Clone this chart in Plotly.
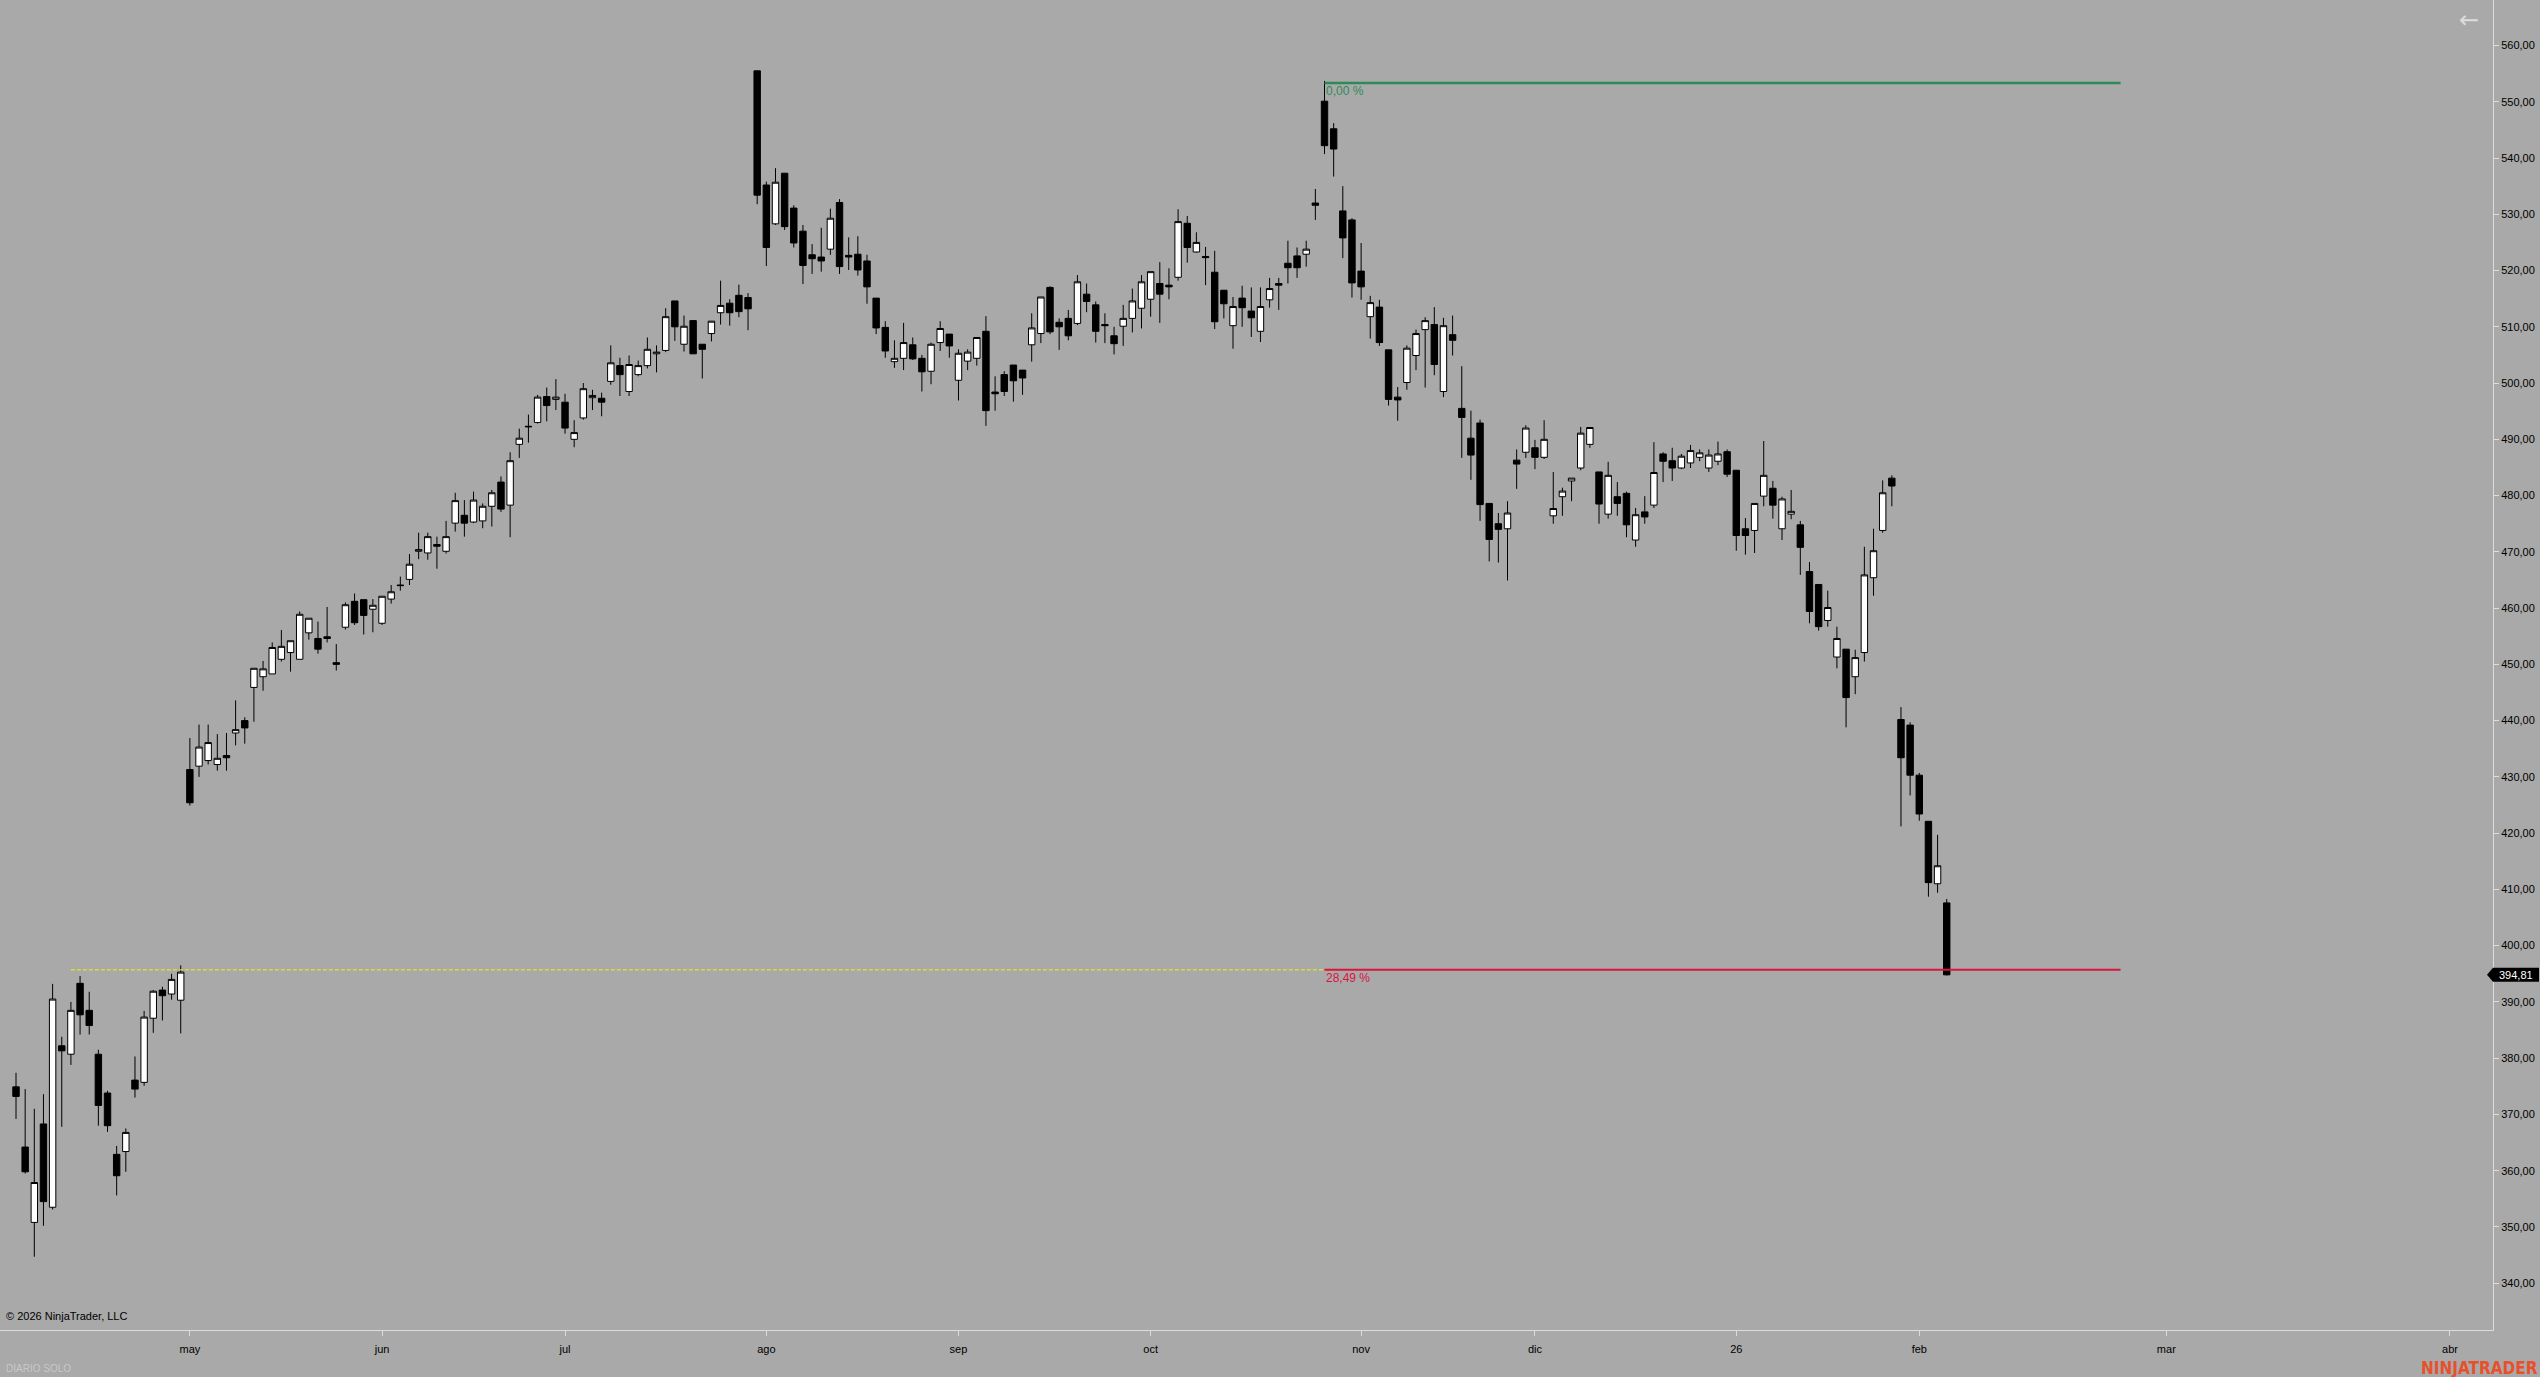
import pandas as pd
import plotly.graph_objects as go

# ---------------- data ----------------
opens = [374.9, 364.2, 350.8, 368.3, 353.5, 382.2, 380.7, 393.3, 388.5, 380.7,
         373.8, 362.9, 363.4, 376.1, 375.7, 387.1, 392.1, 391.4, 390.3, 431.3,
         431.9, 432.9, 432.2, 433.8, 437.8, 440.0, 445.9, 447.8, 448.3, 450.9,
         452.1, 450.9, 455.6, 454.6, 454.9, 450.3, 456.6, 461.2, 461.5, 459.8,
         457.3, 461.6, 464.1, 465.1, 470.1, 469.8, 471.3, 470.1, 475.1, 476.5,
         475.3, 475.5, 478.1, 482.4, 478.3, 489.1, 492.2, 493.0, 497.6, 497.1,
         496.6, 490.0, 493.8, 497.4, 497.3, 500.3, 503.1, 498.5, 501.5, 503.1,
         505.2, 505.8, 514.6, 506.9, 511.1, 506.9, 508.8, 512.5, 514.2, 515.6,
         515.2, 555.5, 535.2, 528.3, 537.3, 531.1, 527.0, 522.8, 522.4, 523.8,
         532.1, 522.7, 522.9, 521.7, 515.1, 509.9, 503.8, 504.4, 506.8, 504.4,
         502.1, 507.2, 508.7, 500.5, 503.9, 504.4, 509.2, 498.4, 501.5, 503.2,
         502.3, 506.8, 508.8, 517.0, 510.8, 511.5, 510.6, 515.8, 513.9, 510.4,
         508.4, 510.1, 511.5, 513.3, 514.9, 517.7, 517.4, 518.8, 528.4, 523.3,
         522.5, 519.7, 516.5, 510.2, 515.1, 512.8, 509.2, 514.8, 517.7, 521.3,
         522.6, 522.9, 532.0, 550.1, 545.2, 530.6, 529.0, 519.9, 511.8, 513.5,
         505.9, 497.5, 500.1, 504.9, 509.5, 510.4, 498.5, 508.6, 495.5, 490.2,
         492.9, 478.6, 475.0, 474.1, 486.3, 487.7, 488.5, 486.8, 476.4, 479.8,
         482.6, 484.9, 489.1, 484.2, 476.7, 479.8, 480.4, 472.1, 477.1, 478.3,
         487.4, 486.2, 484.9, 485.8, 486.8, 484.9, 486.1, 487.8, 484.5, 474.1,
         473.8, 479.9, 481.3, 474.1, 476.7, 474.8, 466.5, 464.2, 457.8, 451.3,
         452.7, 447.8, 452.1, 465.4, 473.8, 483.1, 440.2, 439.2, 430.3, 422.1,
         411.0, 407.6]
highs = [377.4, 374.5, 371.0, 373.6, 393.2, 383.8, 390.0, 394.6, 391.8, 381.5,
         374.2, 364.4, 367.5, 380.3, 388.4, 392.1, 392.7, 395.0, 396.5, 436.9,
         439.3, 439.3, 437.6, 437.8, 443.6, 440.6, 449.3, 450.6, 453.9, 456.1,
         454.2, 459.4, 458.2, 457.6, 460.2, 453.6, 461.0, 462.6, 461.5, 461.6,
         462.1, 464.1, 465.6, 469.6, 473.4, 473.4, 472.7, 475.5, 480.5, 479.2,
         480.7, 478.6, 481.0, 483.4, 487.7, 491.9, 494.4, 497.9, 499.2, 500.7,
         498.1, 493.4, 500.0, 498.8, 498.3, 506.7, 504.5, 504.9, 504.0, 508.1,
         506.7, 513.3, 514.6, 512.0, 511.2, 506.9, 511.0, 518.2, 514.9, 517.5,
         516.0, 555.5, 535.8, 538.2, 537.3, 531.6, 528.1, 524.7, 527.6, 531.0,
         532.7, 525.9, 526.1, 522.8, 515.1, 511.0, 507.6, 510.7, 508.1, 505.0,
         507.2, 511.0, 508.7, 506.0, 506.0, 508.1, 511.9, 501.2, 502.1, 503.2,
         502.3, 512.4, 515.3, 517.2, 511.5, 513.0, 519.2, 517.7, 514.5, 512.4,
         510.0, 513.9, 516.8, 519.2, 519.8, 521.5, 520.4, 530.9, 529.7, 526.8,
         524.2, 523.5, 516.5, 515.3, 517.3, 517.0, 517.0, 518.7, 518.7, 525.3,
         524.1, 525.3, 534.5, 553.7, 546.2, 535.0, 529.3, 524.9, 515.5, 514.8,
         505.9, 499.3, 506.7, 509.5, 511.7, 513.5, 511.6, 512.0, 503.0, 495.1,
         493.5, 478.6, 476.9, 479.0, 488.2, 492.5, 489.9, 493.4, 484.2, 481.4,
         483.1, 492.2, 492.1, 484.2, 486.0, 482.4, 480.7, 477.8, 479.9, 489.5,
         487.7, 488.5, 487.4, 489.0, 488.2, 488.2, 489.6, 488.2, 484.5, 476.0,
         478.6, 489.7, 482.6, 479.8, 481.0, 475.5, 468.2, 464.2, 463.1, 456.7,
         452.7, 452.6, 470.9, 474.1, 482.7, 483.6, 442.4, 439.7, 430.7, 422.1,
         419.7, 408.3]
lows = [369.2, 359.5, 344.7, 350.2, 353.1, 367.8, 378.8, 384.2, 384.2, 368.0,
        366.9, 355.6, 359.8, 373.0, 375.1, 384.5, 386.7, 390.4, 384.4, 424.9,
        430.0, 432.2, 431.1, 431.1, 435.6, 435.9, 439.8, 445.3, 448.3, 450.5,
        448.7, 450.9, 454.4, 451.9, 453.9, 448.9, 456.2, 457.0, 455.3, 455.7,
        457.0, 460.8, 463.1, 464.1, 468.7, 468.6, 467.0, 469.7, 473.6, 472.7,
        475.1, 474.2, 474.5, 477.1, 472.6, 486.7, 489.4, 492.8, 493.2, 495.2,
        491.0, 488.6, 493.5, 495.2, 494.1, 499.7, 497.7, 497.7, 501.2, 502.6,
        501.9, 505.5, 507.5, 505.6, 505.2, 500.8, 507.4, 510.4, 510.2, 511.7,
        509.4, 531.8, 520.8, 528.1, 527.2, 524.1, 517.6, 519.4, 519.8, 522.8,
        519.4, 520.1, 519.1, 514.1, 508.7, 504.5, 502.7, 502.3, 504.1, 498.5,
        499.8, 505.7, 504.5, 496.9, 502.3, 503.1, 492.4, 495.1, 497.7, 496.7,
        497.9, 503.8, 507.1, 508.7, 505.9, 507.6, 510.3, 512.6, 507.2, 507.1,
        505.1, 506.6, 509.0, 509.7, 511.8, 510.7, 514.9, 518.2, 521.4, 523.2,
        517.4, 509.6, 511.5, 506.1, 510.0, 508.2, 507.3, 513.4, 513.0, 517.7,
        518.7, 520.7, 529.0, 540.7, 536.7, 522.2, 515.2, 514.8, 507.9, 506.6,
        496.0, 493.3, 498.8, 502.3, 499.2, 501.4, 497.5, 504.9, 486.7, 482.8,
        475.5, 468.3, 468.1, 464.9, 481.2, 486.7, 484.7, 486.5, 475.0, 476.4,
        479.0, 484.5, 488.5, 475.0, 475.9, 476.4, 472.6, 470.9, 475.0, 477.8,
        482.4, 482.6, 484.7, 484.9, 486.1, 484.2, 485.4, 483.3, 470.2, 469.5,
        469.8, 478.1, 475.9, 472.1, 475.8, 465.9, 457.3, 456.0, 456.7, 449.3,
        438.8, 444.7, 450.5, 462.2, 473.4, 478.1, 421.2, 426.7, 422.2, 408.7,
        409.4, 394.7]
closes = [373.2, 359.8, 357.9, 354.5, 390.5, 381.3, 388.5, 387.7, 385.8, 371.6,
          368.0, 359.1, 366.8, 374.5, 387.3, 391.9, 391.1, 394.0, 395.3, 425.4,
          435.3, 436.1, 433.3, 433.4, 438.4, 438.7, 449.3, 449.2, 453.0, 453.2,
          454.2, 458.9, 458.2, 452.7, 454.6, 450.0, 460.6, 457.4, 458.7, 460.5,
          462.1, 462.9, 464.0, 467.8, 470.4, 472.7, 471.0, 472.7, 479.1, 475.1,
          479.2, 478.1, 480.5, 477.6, 486.2, 490.2, 492.3, 497.5, 496.0, 497.5,
          492.0, 491.2, 499.0, 497.8, 496.6, 503.6, 501.5, 503.3, 503.1, 506.0,
          505.5, 511.8, 510.0, 510.1, 505.2, 506.0, 511.0, 513.8, 512.5, 512.7,
          513.2, 533.4, 524.1, 535.7, 527.8, 524.9, 520.9, 522.1, 521.7, 529.3,
          520.7, 522.4, 520.1, 517.1, 509.8, 505.7, 504.4, 507.2, 504.3, 502.0,
          506.9, 509.7, 506.6, 505.3, 505.5, 508.1, 495.1, 498.1, 498.5, 500.4,
          500.9, 509.8, 515.3, 509.1, 510.0, 508.4, 518.0, 514.5, 509.2, 510.2,
          507.0, 511.5, 514.6, 518.0, 519.8, 515.8, 517.1, 528.7, 524.1, 525.0,
          522.3, 510.9, 514.1, 513.6, 513.4, 511.6, 513.6, 516.8, 517.4, 520.5,
          520.5, 523.8, 531.6, 542.2, 541.6, 525.8, 517.8, 517.1, 514.3, 507.2,
          497.1, 497.0, 506.2, 508.8, 511.1, 503.3, 510.2, 507.6, 493.9, 487.2,
          478.4, 472.2, 474.0, 476.9, 485.6, 492.0, 486.8, 490.0, 477.7, 480.8,
          483.1, 491.1, 492.1, 478.5, 483.6, 478.6, 474.8, 476.6, 476.2, 484.1,
          486.1, 484.9, 487.0, 488.0, 487.6, 487.2, 487.4, 483.8, 472.9, 472.9,
          478.6, 483.6, 478.3, 479.4, 477.2, 470.8, 459.4, 456.7, 460.1, 454.6,
          444.1, 451.2, 465.9, 470.2, 480.5, 481.7, 433.4, 430.3, 423.4, 411.2,
          414.2, 394.81]

# trading calendar (US market holidays in the window)
first_day = "2025-04-03"
last_day = "2026-02-05"
market_holidays = ["2025-04-18", "2025-05-26", "2025-06-19", "2025-07-04",
                   "2025-09-01", "2025-11-27", "2025-12-25", "2026-01-01",
                   "2026-01-19"]
future_until = "2026-04-20"

# month tick labels (Spanish, year shown for January)
tick_months = ["2025-05", "2025-06", "2025-07", "2025-08", "2025-09", "2025-10",
               "2025-11", "2025-12", "2026-01", "2026-02", "2026-03", "2026-04"]
tick_labels = ["may", "jun", "jul", "ago", "sep", "oct", "nov", "dic", "26",
               "feb", "mar", "abr"]

# percentage drawing tool
fib_anchor_date = "2025-10-28"
fib_left_date = "2025-04-11"
fib_right_date = "2026-02-24"
fib_top = 553.35
fib_bottom = 395.7
fib_top_label = "0,00 %"
fib_bottom_label = "28,49 %"

# ---------------- build ----------------
tdays = pd.bdate_range(first_day, last_day, freq="C", holidays=market_holidays)
fdays = pd.date_range(tdays[-1] + pd.Timedelta(days=1), future_until, freq="D")
all_days = list(tdays) + list(fdays)
pos = {d.strftime("%Y-%m-%d"): i for i, d in enumerate(all_days)}
idx = list(range(len(tdays)))

tickvals = []
for m in tick_months:
    start = pd.Timestamp(m + "-01")
    tickvals.append(next(i for i, d in enumerate(all_days) if d >= start))

x_anchor = pos[fib_anchor_date]
x_left = pos[fib_left_date]
x_right = pos[fib_right_date]

BG = "#a9a9a9"
AX = "#dcdcdc"
FONT = "Liberation Sans, Arial, sans-serif"

fig = go.Figure()
fig.add_trace(go.Candlestick(
    x=idx, open=opens, high=highs, low=lows, close=closes,
    increasing=dict(line=dict(color="black", width=1), fillcolor="white"),
    decreasing=dict(line=dict(color="black", width=1), fillcolor="black"),
    whiskerwidth=0, hoverinfo="skip", showlegend=False,
))

shapes = [
    dict(type="line", xref="x", yref="y", x0=x_left, x1=x_anchor, y0=fib_bottom, y1=fib_bottom,
         line=dict(color="#f2f200", width=1, dash="4px,2px"), layer="above"),
    dict(type="line", xref="x", yref="y", x0=x_anchor, x1=x_right, y0=fib_bottom, y1=fib_bottom,
         line=dict(color="#dc143c", width=2), layer="above"),
    dict(type="line", xref="x", yref="y", x0=x_anchor, x1=x_right, y0=fib_top, y1=fib_top,
         line=dict(color="#2e8b57", width=2.5), layer="above"),
    dict(type="path", xref="paper", yref="y", xsizemode="pixel", ysizemode="pixel",
         xanchor=1, yanchor=closes[-1],
         path="M-6,0 L0,7 L46,7 L46,-7 L0,-7 Z",
         fillcolor="black", line=dict(width=0), layer="above"),
]

last_txt = f"{closes[-1]:.2f}".replace(".", ",")
annotations = [
    dict(text=fib_top_label, x=x_anchor, y=fib_top, xref="x", yref="y",
         xanchor="left", yanchor="top", yshift=1, xshift=-1, showarrow=False,
         font=dict(family=FONT, size=12, color="#2e8b57")),
    dict(text=fib_bottom_label, x=x_anchor, y=fib_bottom, xref="x", yref="y",
         xanchor="left", yanchor="top", yshift=1, xshift=-1, showarrow=False,
         font=dict(family=FONT, size=12, color="#dc143c")),
    dict(text=last_txt, x=1, y=closes[-1], xref="paper", yref="y",
         xanchor="center", yanchor="middle", xshift=23, showarrow=False,
         font=dict(family=FONT, size=11, color="white")),
    dict(text="© 2026 NinjaTrader, LLC", x=0, y=0, xref="paper", yref="paper",
         xanchor="left", yanchor="bottom", xshift=4, yshift=6, showarrow=False,
         font=dict(family=FONT, size=11, color="black")),
    dict(text="DIARIO SOLO", x=0, y=0, xref="paper", yref="paper",
         xanchor="left", yanchor="top", xshift=4, yshift=-31, showarrow=False,
         font=dict(family=FONT, size=10, color="#c8c8c8")),
    dict(text="<b>NINJATRADER</b>", x=1, y=0, xref="paper", yref="paper",
         xanchor="right", yanchor="top", xshift=47, yshift=-26, showarrow=False,
         font=dict(family="Liberation Sans Narrow, DejaVu Sans Condensed, Arial Narrow, sans-serif",
                   size=17, color="#e8502b")),
    dict(text="←", x=1, y=1, xref="paper", yref="paper",
         xanchor="center", yanchor="middle", xshift=-24, yshift=-20, showarrow=False,
         font=dict(family="DejaVu Sans, sans-serif", size=24, color="#dcdcdc")),
]

fig.update_layout(
    width=2540, height=1377,
    paper_bgcolor=BG, plot_bgcolor=BG,
    margin=dict(l=0, r=47, t=0, b=47),
    separators=",.",
    font=dict(family=FONT, size=11, color="black"),
    boxgap=0, boxgroupgap=0.3,
    showlegend=False,
    shapes=shapes, annotations=annotations,
    xaxis=dict(range=[-1.75, 270.7], tickvals=tickvals, ticktext=tick_labels,
               showgrid=False, zeroline=False, showline=True, linecolor=AX, linewidth=1,
               ticks="outside", ticklen=5, tickcolor=AX, tickwidth=1,
               tickfont=dict(family=FONT, size=11, color="black"),
               ticklabelstandoff=4,
               rangeslider=dict(visible=False), fixedrange=True),
    yaxis=dict(side="right", range=[331.68, 568.09], dtick=10, tick0=0,
               tickformat=".2f", showgrid=False, zeroline=False,
               showline=True, linecolor=AX, linewidth=1,
               ticks="outside", ticklen=5, tickcolor=AX, tickwidth=1,
               tickfont=dict(family=FONT, size=11, color="black"), fixedrange=True),
)

fig.write_html("out.html", config={"displayModeBar": False},
               post_script="document.body.style.margin='0';document.body.style.overflow='hidden';")
